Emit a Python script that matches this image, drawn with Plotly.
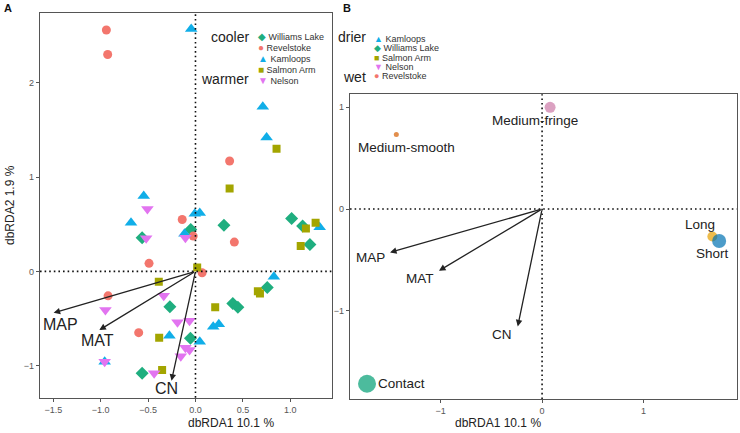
import plotly.graph_objects as go

FONT = "Liberation Sans, Arial, sans-serif"
W, H = 740, 433

# ---------------- Panel A data (sites) ----------------
site_order_a = ["Williams Lake", "Revelstoke", "Kamloops", "Salmon Arm", "Nelson"]
site_order_b = ["Kamloops", "Williams Lake", "Salmon Arm", "Nelson", "Revelstoke"]

williams_x = [0.30, 1.014, 1.13, 1.207, -0.05, -0.563, 0.757, -0.27, 0.394, 0.447, -0.053, -0.563]
williams_y = [0.49, 0.56, 0.48, 0.286, 0.445, 0.356, -0.17, -0.375, -0.34, -0.38, -0.71, -1.08]

revelstoke_x = [-0.94, -0.926, 0.36, -0.14, -0.024, 0.41, -0.49, 0.07, -0.922, -0.599]
revelstoke_y = [2.56, 2.30, 1.17, 0.55, 0.374, 0.31, 0.085, -0.015, -0.26, -0.65]

kamloops_x = [-0.045, 0.71, 0.75, -0.546, -0.007, 0.045, -0.68, -0.116, 1.31, 0.827,
              0.187, 0.246, -0.275, 0.045, -0.958]
kamloops_y = [2.57, 1.745, 1.42, 0.80, 0.61, 0.62, 0.515, 0.40, 0.467, -0.057,
              -0.587, -0.56, -0.683, -0.746, -0.96]

salmon_x = [0.855, 0.36, 1.165, 1.267, 1.11, 0.018, 0.658, 0.68, -0.387, 0.208, -0.383, -0.352]
salmon_y = [1.30, 0.88, 0.455, 0.515, 0.27, 0.04, -0.21, -0.235, -0.11, -0.38, -0.704, -1.047]

nelson_x = [-0.507, -0.106, -0.52, -0.335, -0.95, -0.19, -0.063, -0.106, -0.063, -0.155, -0.958, -0.436]
nelson_y = [0.66, 0.356, 0.35, -0.26, -0.41, -0.54, -0.524, -0.81, -0.835, -0.90, -0.96, -1.08]

site_data = {
    "Williams Lake": (williams_x, williams_y),
    "Revelstoke": (revelstoke_x, revelstoke_y),
    "Kamloops": (kamloops_x, kamloops_y),
    "Salmon Arm": (salmon_x, salmon_y),
    "Nelson": (nelson_x, nelson_y),
}
site_color = {
    "Williams Lake": "#1FAE7F",
    "Revelstoke": "#F3766D",
    "Kamloops": "#10AEE8",
    "Salmon Arm": "#A3A500",
    "Nelson": "#E274F0",
}
site_symbol = {
    "Williams Lake": "diamond",
    "Revelstoke": "circle",
    "Kamloops": "triangle-up",
    "Salmon Arm": "square",
    "Nelson": "triangle-down",
}
site_size = {
    "Williams Lake": 10,
    "Revelstoke": 9,
    "Kamloops": 11,
    "Salmon Arm": 8,
    "Nelson": 11,
}
site_glyph = {
    "Williams Lake": "\u25C6",
    "Revelstoke": "\u25CF",
    "Kamloops": "\u25B2",
    "Salmon Arm": "\u25A0",
    "Nelson": "\u25BC",
}

# environmental vectors
env_names = ["MAP", "MAT", "CN"]
env_a_x = [-1.496, -1.014, -0.253]
env_a_y = [-0.44, -0.622, -1.16]
env_b_x = [-1.50, -1.017, -0.24]
env_b_y = [-0.427, -0.607, -1.154]

# ---------------- Panel B data (categories) ----------------
cat_names = ["Contact", "Long", "Medium-fringe", "Medium-smooth", "Short"]
cat_x = [-1.727, 1.68, 0.079, -1.438, 1.747]
cat_y = [-1.718, -0.27, 1.00, 0.733, -0.315]
cat_size = [18, 10, 11, 5, 14]
cat_color = ["#009E73", "#E69F00", "#CC79A7", "#D55E00", "#0072B2"]

fig = go.Figure()

for s in site_order_a:
    xs, ys = site_data[s]
    fig.add_trace(go.Scatter(
        x=xs, y=ys, mode="markers", name=s, showlegend=False,
        marker=dict(symbol=site_symbol[s], size=site_size[s], color=site_color[s],
                    line=dict(width=0)),
        xaxis="x", yaxis="y"))

fig.add_trace(go.Scatter(
    x=cat_x, y=cat_y, mode="markers", showlegend=False,
    marker=dict(size=cat_size, color=cat_color, line=dict(width=0)),
    xaxis="x2", yaxis="y2"))


def px_x(p):
    return p / W


def px_y(p):
    return 1 - p / H


ann = []
# arrows + labels
label_shift_a = [(7, -12), (-2, -10), (-5, -8)]
label_shift_b = [(-20, -5), (-19, -8), (-16, -8)]
for i, n in enumerate(env_names):
    for (ex, ey, xr, yr, sh, fs) in [(env_a_x, env_a_y, "x", "y", label_shift_a, 16),
                                      (env_b_x, env_b_y, "x2", "y2", label_shift_b, 13.5)]:
        ann.append(dict(x=ex[i], y=ey[i], ax=0, ay=0, xref=xr, yref=yr, axref=xr, ayref=yr,
                        text="", showarrow=True, arrowhead=2, arrowsize=1.0, arrowwidth=1.3,
                        arrowcolor="#222222", standoff=0))
        ann.append(dict(x=ex[i], y=ey[i], xref=xr, yref=yr, text=n, showarrow=False,
                        xshift=sh[i][0], yshift=sh[i][1],
                        font=dict(family=FONT, size=fs, color="#222222")))

# category labels in panel B
cat_label_shift = {
    "Contact": (9, 0, "left"),
    "Long": (-12, 12, "center"),
    "Medium-fringe": (-15, -13, "center"),
    "Medium-smooth": (10, -13, "center"),
    "Short": (-7, -12, "center"),
}
for i, n in enumerate(cat_names):
    dx, dy, xa = cat_label_shift[n]
    ann.append(dict(x=cat_x[i], y=cat_y[i], xref="x2", yref="y2", text=n, showarrow=False,
                    xshift=dx, yshift=dy, xanchor=xa,
                    font=dict(family=FONT, size=13.5, color="#222222")))


# legends as text
def leg_text(s, gsize):
    return (f"<span style='color:{site_color[s]};font-size:{gsize}px'>{site_glyph[s]}</span> {s}")


leg_a_y = [36.7, 48.0, 59.0, 69.7, 80.3]
for s, yy in zip(site_order_a, leg_a_y):
    ann.append(dict(x=px_x(256), y=px_y(yy), xref="paper", yref="paper", xanchor="left",
                    yanchor="middle", showarrow=False, text=leg_text(s, 10),
                    font=dict(family=FONT, size=9, color="#333333")))
leg_b_y = [39.3, 48.3, 57.7, 66.7, 76.0]
for s, yy in zip(site_order_b, leg_b_y):
    ann.append(dict(x=px_x(372), y=px_y(yy), xref="paper", yref="paper", xanchor="left",
                    yanchor="middle", showarrow=False, text=leg_text(s, 9),
                    font=dict(family=FONT, size=9, color="#333333")))

for txt, xx, yy in [("cooler", 251, 36.7), ("warmer", 251, 78.5),
                    ("drier", 368, 37.3), ("wet", 368, 76.7)]:
    ann.append(dict(x=px_x(xx), y=px_y(yy), xref="paper", yref="paper", xanchor="right",
                    yanchor="middle", showarrow=False, text=txt,
                    font=dict(family=FONT, size=14, color="#222222")))

# panel tags
for txt, xx in [("A", 7.5), ("B", 346.5)]:
    ann.append(dict(x=px_x(xx), y=px_y(7.5), xref="paper", yref="paper", xanchor="center",
                    yanchor="middle", showarrow=False, text=f"<b>{txt}</b>",
                    font=dict(family=FONT, size=11, color="#111111")))

# axis titles
ann.append(dict(x=px_x(186), y=px_y(423), xref="paper", yref="paper", showarrow=False,
                yanchor="middle",
                text="dbRDA1 10.1 %", font=dict(family=FONT, size=12, color="#222222")))
ann.append(dict(x=px_x(543), y=px_y(423), xref="paper", yref="paper", showarrow=False,
                yanchor="middle",
                text="dbRDA1 10.1 %", font=dict(family=FONT, size=12, color="#222222")))
ann.append(dict(x=px_x(10), y=px_y(205), xref="paper", yref="paper", showarrow=False,
                textangle=-90, text="dbRDA2 1.9 %", xanchor="center", yanchor="middle",
                font=dict(family=FONT, size=12, color="#222222")))

shapes = []
for xr, yr in [("x", "y"), ("x2", "y2")]:
    shapes.append(dict(type="line", xref=xr, yref=f"{yr} domain", x0=0, x1=0, y0=0, y1=1,
                       line=dict(color="#111111", width=1.6, dash="1.6px,3px")))
    shapes.append(dict(type="line", xref=f"{xr} domain", yref=yr, x0=0, x1=1, y0=0, y1=0,
                       line=dict(color="#111111", width=1.6, dash="1.6px,3px")))

axis_common = dict(showline=True, mirror=True, linecolor="#555555", linewidth=1.2,
                   ticks="outside", ticklen=3, tickcolor="#555555", tickwidth=1,
                   showgrid=False, zeroline=False, automargin=False,
                   tickfont=dict(family=FONT, size=9, color="#555555"))

fig.update_layout(
    width=W, height=H,
    margin=dict(l=0, r=0, t=0, b=0, autoexpand=False),
    paper_bgcolor="white", plot_bgcolor="white",
    showlegend=False,
    xaxis=dict(domain=[px_x(40), px_x(332)], range=[-1.64, 1.44],
               tickvals=[-1.5, -1.0, -0.5, 0.0, 0.5, 1.0], tickformat=".1f",
               anchor="y", **axis_common),
    yaxis=dict(domain=[px_y(397.7), px_y(13)], range=[-1.34, 2.74],
               tickvals=[-1, 0, 1, 2], anchor="x", **axis_common),
    xaxis2=dict(domain=[px_x(350), px_x(736.7)], range=[-1.895, 1.92],
                tickvals=[-1, 0, 1], anchor="y2", **axis_common),
    yaxis2=dict(domain=[px_y(399), px_y(94.3)], range=[-1.868, 1.128],
                tickvals=[-1, 0, 1], anchor="x2", **axis_common),
    annotations=ann,
    shapes=shapes,
)

fig.write_html(
    "out.html",
    config={"displayModeBar": False},
    post_script="document.body.style.margin='0';document.body.style.padding='0';"
                "document.body.style.overflow='hidden';",
)
